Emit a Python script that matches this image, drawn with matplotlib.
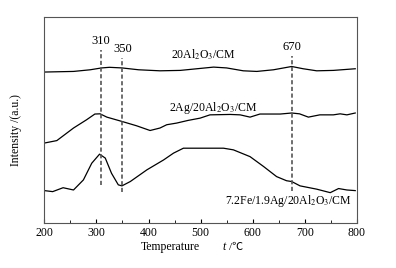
import matplotlib.pyplot as plt
from matplotlib.ticker import MultipleLocator

plt.rcParams['font.family'] = ['Liberation Serif', 'DejaVu Serif']
plt.rcParams['mathtext.fontset'] = 'stix'

# intensity in arbitrary units (0 = bottom frame, 100 = top frame)
t_top = [200, 256, 288, 310, 325, 349, 381, 422, 461, 493, 525, 550, 582, 608,
         640, 675, 697, 723, 755, 797]
y_top = [73.2, 73.5, 74.3, 75.2, 75.5, 75.2, 74.3, 73.8, 74.0, 74.8, 75.6, 75.2,
         73.8, 73.5, 74.3, 75.9, 74.8, 73.8, 74.0, 74.8]

t_mid = [200, 224, 256, 281, 297, 307, 320, 349, 377, 403, 422, 435, 454, 476,
         499, 518, 557, 576, 595, 614, 653, 675, 690, 707, 729, 755, 768, 781,
         797]
y_mid = [38.7, 39.9, 46.0, 50.0, 52.8, 52.9, 51.3, 49.2, 47.1, 44.8, 46.0, 47.6,
         48.4, 49.7, 50.8, 52.4, 52.6, 52.4, 51.3, 52.8, 52.8, 53.3, 52.9, 51.3,
         52.4, 52.4, 52.9, 52.4, 53.3]

t_bot = [200, 216, 236, 256, 275, 291, 306, 317, 329, 342, 349, 365, 397, 429,
         448, 467, 499, 544, 563, 595, 621, 646, 665, 675, 691, 723, 749, 765,
         781, 797]
y_bot = [15.6, 15.1, 17.0, 15.9, 20.8, 28.9, 33.3, 31.4, 24.0, 18.4, 17.9, 20.0,
         25.7, 30.5, 33.8, 36.2, 36.2, 36.2, 35.4, 32.1, 27.3, 22.4, 20.4, 20.0,
         17.9, 16.3, 14.6, 16.6, 15.9, 15.6]

peak_pos = [309, 350, 676]
peak_labels = ['310', '350', '670']
peak_top = [84.1, 80.0, 81.0]
peak_bot = [18.2, 14.9, 15.3]

fig = plt.figure(figsize=(3.96, 2.68), dpi=100)
ax = fig.add_axes([0.112, 0.169, 0.789, 0.768])

for t, y in [(t_top, y_top), (t_mid, y_mid), (t_bot, y_bot)]:
    ax.plot(t, y, color='black', lw=0.9)

for x, lab, y1, y0 in zip(peak_pos, peak_labels, peak_top, peak_bot):
    ax.plot([x, x], [y0, y1], color='#555555', lw=1.2, ls=(0, (2.5, 1.5)))
    ax.text(x, y1 + 1.5, lab, ha='center', va='bottom', fontsize=9)

ax.text(506, 81.5, r'20Al$_2$O$_3$/CM', ha='center', va='center', fontsize=8.5)
ax.text(525, 55.5, r'2Ag/20Al$_2$O$_3$/CM', ha='center', va='center', fontsize=8.5)
ax.text(668, 10.5, r'7.2Fe/1.9Ag/20Al$_2$O$_3$/CM', ha='center', va='center',
        fontsize=8.5)

ax.set_xlim(200, 800)
ax.set_ylim(0, 100)
ax.xaxis.set_major_locator(MultipleLocator(100))
ax.xaxis.set_minor_locator(MultipleLocator(50))
ax.tick_params(axis='x', which='both', direction='in', labelsize=8.5, pad=3)
ax.tick_params(axis='x', which='major', length=3)
ax.tick_params(axis='x', which='minor', length=2)
ax.set_yticks([])
for s in ax.spines.values():
    s.set_color('#555555')
    s.set_linewidth(0.8)

# x label: "Temperature   t /℃"
fig.text(170 / 396, 1 - 247 / 268, 'Temperature', ha='center', va='center',
         fontsize=8.5)
fig.text(224 / 396, 1 - 247 / 268, 't', ha='center', va='center',
         fontsize=8.5, style='italic')
fig.text(229 / 396, 1 - 247 / 268, '/℃', ha='left', va='center',
         fontsize=8, family=['Liberation Serif', 'Noto Sans CJK SC'])
ax.set_ylabel('Intensity /(a.u.)', fontsize=8.5)
ax.yaxis.set_label_coords(-0.071, 0.45)

fig.savefig('out.png', dpi=100)
